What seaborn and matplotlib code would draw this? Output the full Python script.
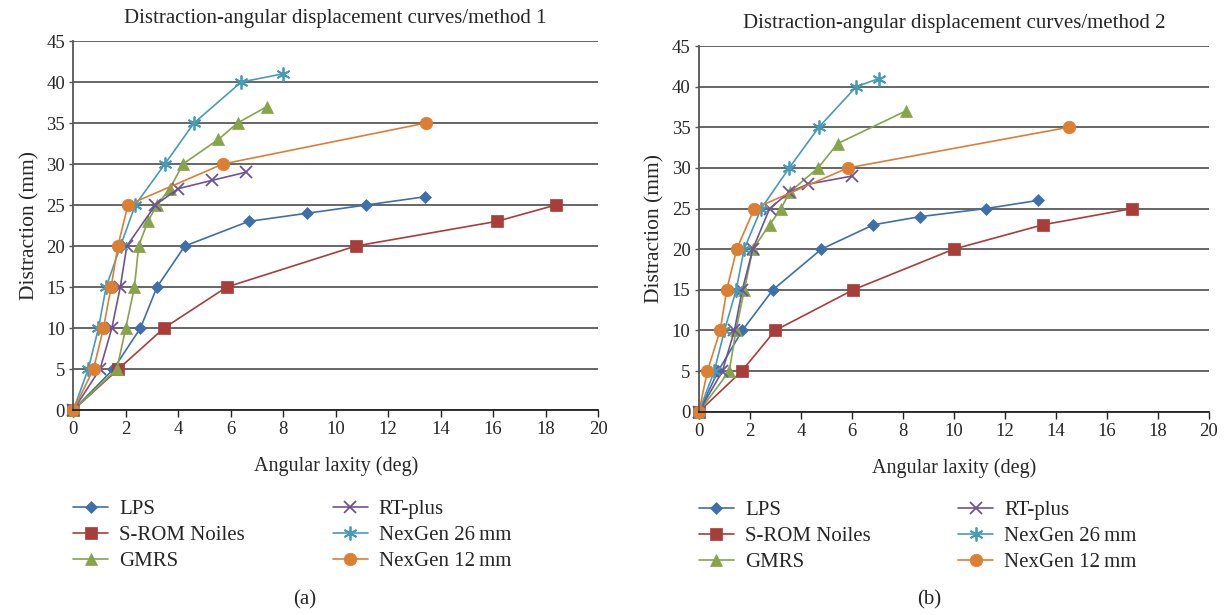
import matplotlib
matplotlib.use("Agg")
import matplotlib.pyplot as plt
import seaborn as sns

# series names, colours, markers
names = ["LPS", "S-ROM Noiles", "GMRS", "RT-plus", "NexGen 26\u2009mm", "NexGen 12\u2009mm"]
colors = ["#3E6FAA", "#A83D3A", "#86A44A", "#6E5396", "#469CB8", "#DC7F33"]
markers = ["D", "s", "^", "x", (6, 2, 0), "o"]
msizes = [6.5, 8.5, 8, 8, 10, 9]

# method 1 (angular laxity deg, distraction mm)
m1_lps_x = [0, 1.53, 2.56, 3.19, 4.25, 6.68, 8.92, 11.16, 13.39]
m1_lps_y = [0, 5, 10, 15, 20, 23, 24, 25, 26]
m1_srom_x = [0, 1.72, 3.46, 5.85, 10.77, 16.13, 18.39]
m1_srom_y = [0, 5, 10, 15, 20, 23, 25]
m1_gmrs_x = [0, 1.66, 2.0, 2.33, 2.49, 2.84, 3.19, 3.68, 4.18, 5.53, 6.26, 7.38]
m1_gmrs_y = [0, 5, 10, 15, 20, 23, 25, 27, 30, 33, 35, 37]
m1_rt_x = [0, 1.02, 1.47, 1.79, 2.04, 3.13, 4.0, 5.28, 6.58]
m1_rt_y = [0, 5, 10, 15, 20, 25, 27, 28, 29]
m1_ng26_x = [0, 0.57, 0.96, 1.25, 1.8, 2.36, 3.49, 4.6, 6.4, 8.0]
m1_ng26_y = [0, 5, 10, 15, 20, 25, 30, 35, 40, 41]
m1_ng12_x = [0, 0.77, 1.15, 1.44, 1.7, 2.08, 5.7, 13.44]
m1_ng12_y = [0, 5, 10, 15, 20, 25, 30, 35]

# method 2
m2_lps_x = [0, 0.75, 1.7, 2.9, 4.8, 6.84, 8.67, 11.26, 13.3]
m2_lps_y = [0, 5, 10, 15, 20, 23, 24, 25, 26]
m2_srom_x = [0, 1.68, 2.99, 6.05, 9.99, 13.49, 17.0]
m2_srom_y = [0, 5, 10, 15, 20, 23, 25]
m2_gmrs_x = [0, 1.19, 1.45, 1.78, 2.11, 2.77, 3.22, 3.55, 4.67, 5.44, 8.11]
m2_gmrs_y = [0, 5, 10, 15, 20, 23, 25, 27, 30, 33, 37]
m2_rt_x = [0, 0.92, 1.39, 1.7, 2.11, 2.77, 3.54, 4.28, 6.01]
m2_rt_y = [0, 5, 10, 15, 20, 25, 27, 28, 29]
m2_ng26_x = [0, 0.6, 1.0, 1.46, 1.77, 2.44, 3.54, 4.7, 6.17, 7.06]
m2_ng26_y = [0, 5, 10, 15, 20, 25, 30, 35, 40, 41]
m2_ng12_x = [0, 0.33, 0.83, 1.09, 1.48, 2.17, 5.84, 14.5]
m2_ng12_y = [0, 5, 10, 15, 20, 25, 30, 35]

method1 = [(m1_lps_x, m1_lps_y), (m1_srom_x, m1_srom_y), (m1_gmrs_x, m1_gmrs_y),
           (m1_rt_x, m1_rt_y), (m1_ng26_x, m1_ng26_y), (m1_ng12_x, m1_ng12_y)]
method2 = [(m2_lps_x, m2_lps_y), (m2_srom_x, m2_srom_y), (m2_gmrs_x, m2_gmrs_y),
           (m2_rt_x, m2_rt_y), (m2_ng26_x, m2_ng26_y), (m2_ng12_x, m2_ng12_y)]

sns.set_style("white")
plt.rcParams["font.family"] = ["Liberation Serif", "DejaVu Serif"]

fig = plt.figure(figsize=(12.28, 6.15), dpi=100)
ax1 = fig.add_axes([0.0597, 0.3333, 0.4273, 0.600])
ax2 = fig.add_axes([0.5692, 0.3306, 0.4153, 0.5946])

panels = [(ax1, method1, "Distraction-angular displacement curves/method 1", "(a)", 0.248, -0.242),
          (ax2, method2, "Distraction-angular displacement curves/method 2", "(b)", 0.757, -0.243)]

for ax, data, title, tag, tag_x, leg_y in panels:
    for (xs, ys), name, c, m, ms in zip(data, names, colors, markers, msizes):
        sns.lineplot(x=xs, y=ys, ax=ax, color=c, marker=m, markersize=ms,
                     markeredgecolor=c, markeredgewidth=1.3 if m in ("x", (6, 2, 0)) else 0.5,
                     linewidth=1.2, sort=False, estimator=None, label=name, clip_on=False)
    ax.set_xlim(0, 20)
    ax.set_ylim(0, 45)
    ax.set_xticks(range(0, 21, 2))
    ax.set_yticks(range(0, 46, 5))
    ax.yaxis.grid(True, color="#5a5a5a", linewidth=1.3)
    ax.set_axisbelow(True)
    for s in ["top", "right"]:
        ax.spines[s].set_visible(False)
    ax.spines["left"].set_color("#555555")
    ax.spines["left"].set_linewidth(1.3)
    ax.spines["bottom"].set_color("#222222")
    ax.spines["bottom"].set_linewidth(1.3)
    ax.tick_params(axis="x", direction="out", length=5, width=1, color="#222222",
                   labelsize=13.5, pad=3, bottom=True)
    ax.tick_params(axis="y", direction="out", length=3, width=1, color="#555555",
                   labelsize=13.5, pad=3, left=True)
    ax.set_title(title, fontsize=15, pad=13)
    ax.set_xlabel("Angular laxity (deg)", fontsize=14.5, labelpad=13)
    ax.set_ylabel("Distraction (mm)", fontsize=15.5, labelpad=5)
    ax.legend(loc="upper left", bbox_to_anchor=(0, leg_y), ncol=2, frameon=False,
              fontsize=15, handlelength=1.68, handletextpad=0.53, columnspacing=4.2,
              labelspacing=0.31, borderaxespad=0, borderpad=0)
    fig.text(tag_x, 0.0244, tag, fontsize=15, ha="center", va="center")

fig.savefig("out.png", dpi=100)
